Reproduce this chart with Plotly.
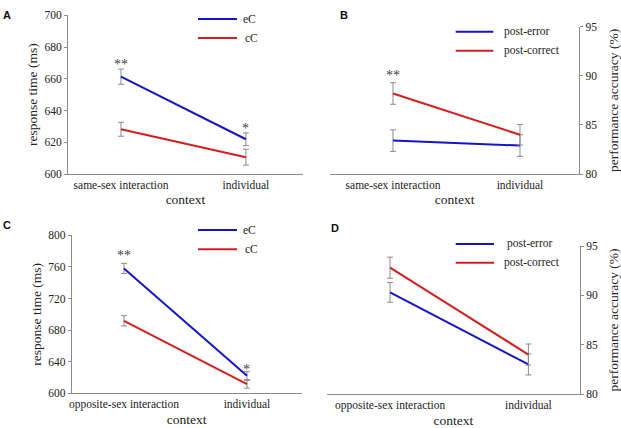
import plotly.graph_objects as go

# ---------------- data ----------------
cats_A = ["same-sex interaction", "individual"]
cats_C = ["opposite-sex interaction", "individual"]

A_eC = [661.3, 621.9]
A_eC_err = [4.8, 4.0]
A_cC = [628.2, 610.6]
A_cC_err = [4.4, 5.0]

B_err = [83.4, 82.9]
B_err_se = [1.1, 1.1]
B_cor = [88.2, 84.0]
B_cor_se = [1.1, 1.05]

C_eC = [758.0, 622.3]
C_eC_err = [6.5, 5.0]
C_cC = [691.8, 611.5]
C_cC_err = [6.5, 5.0]

D_err = [90.3, 83.0]
D_err_se = [1.0, 1.07]
D_cor = [92.8, 84.0]
D_cor_se = [1.07, 1.07]

BLUE = "#1414c8"
RED = "#d41e1e"
GRAY = "#8a8a8a"
SERIF = "Liberation Serif, Times New Roman, serif"
W, H = 621, 428

fig = go.Figure()

def add_series(x, y, e, color, xa, ya):
    fig.add_trace(go.Scatter(
        x=x, y=y, mode="lines", xaxis=xa, yaxis=ya,
        line=dict(color=color, width=2), showlegend=False,
        error_y=dict(type="data", array=e, visible=True, color=GRAY,
                     thickness=1, width=3)))

add_series(cats_A, A_cC, A_cC_err, RED, "x", "y")
add_series(cats_A, A_eC, A_eC_err, BLUE, "x", "y")
add_series(cats_A, B_err, B_err_se, BLUE, "x2", "y2")
add_series(cats_A, B_cor, B_cor_se, RED, "x2", "y2")
add_series(cats_C, C_cC, C_cC_err, RED, "x3", "y3")
add_series(cats_C, C_eC, C_eC_err, BLUE, "x3", "y3")
add_series(cats_C, D_err, D_err_se, BLUE, "x4", "y4")
add_series(cats_C, D_cor, D_cor_se, RED, "x4", "y4")

def px_x(p):
    return p / W

def px_y(p):
    return 1 - p / H

tickfont = dict(family=SERIF, size=11.5, color="#222")
titlefont = dict(family=SERIF, size=13.5, color="#222")

def xaxis(domain, rng):
    return dict(domain=domain, range=rng, type="category", showline=True,
                linecolor=GRAY, linewidth=1, ticks="", showgrid=False,
                zeroline=False, tickfont=tickfont, automargin=False,
                title=dict(text="context", font=titlefont, standoff=4))

def yaxis(domain, rng, dtick, anchor, side, title, standoff):
    return dict(domain=domain, range=rng, dtick=dtick, anchor=anchor, side=side,
                showline=True, linecolor=GRAY, linewidth=1, ticks="outside",
                ticklen=3, tickcolor=GRAY, showgrid=False, zeroline=False,
                tickfont=tickfont, automargin=False,
                title=dict(text=title, font=titlefont, standoff=standoff))

fig.update_layout(
    width=W, height=H, margin=dict(l=0, r=0, t=0, b=0, autoexpand=False),
    paper_bgcolor="white", plot_bgcolor="white",
    xaxis=dict(**xaxis([px_x(68), px_x(303)], [-0.424, 1.457]), anchor="y"),
    yaxis=yaxis([px_y(174), px_y(15.3)], [600, 700], 20, "x", "left", "response time (ms)", 3),
    xaxis2=dict(**xaxis([px_x(330), px_x(579.3)], [-0.496, 1.467]), anchor="y2"),
    yaxis2=yaxis([px_y(174), px_y(26.7)], [80, 95], 5, "x2", "right", "performance accuracy (%)", 12),
    xaxis3=dict(**xaxis([px_x(71.7), px_x(301.7)], [-0.425, 1.445]), anchor="y3"),
    yaxis3=yaxis([px_y(393.3), px_y(235.3)], [600, 800], 40, "x3", "left", "response time (ms)", 3),
    xaxis4=dict(**xaxis([px_x(326.7), px_x(580)], [-0.458, 1.373]), anchor="y4"),
    yaxis4=yaxis([px_y(394), px_y(246)], [80, 95], 5, "x4", "right", "performance accuracy (%)", 12),
)

shapes = []
annots = []

def legend(x0, x1, yb, yr, tx_b, tx_r, lab_b, lab_r):
    for y, c, tx, lab in [(yb, BLUE, tx_b, lab_b), (yr, RED, tx_r, lab_r)]:
        shapes.append(dict(type="line", xref="paper", yref="paper",
                           x0=px_x(x0), x1=px_x(x1), y0=px_y(y), y1=px_y(y),
                           line=dict(color=c, width=2)))
        annots.append(dict(xref="paper", yref="paper", x=px_x(tx), y=px_y(y),
                           text=lab, showarrow=False, xanchor="left", yanchor="middle",
                           font=dict(family=SERIF, size=11.5, color="#222")))

legend(198, 237, 19, 38, 241, 243, "eC", "cC")
legend(455.7, 493.3, 31.7, 50.7, 502, 502, "post-error", "post-correct")
legend(198, 237, 230, 249.3, 241, 243, "eC", "cC")
legend(455.7, 494, 244, 262.7, 505, 502, "post-error", "post-correct")

# panel letters
for lab, x, y in [("A", 7, 15), ("B", 344, 15), ("C", 7, 225), ("D", 335, 228)]:
    annots.append(dict(xref="paper", yref="paper", x=px_x(x), y=px_y(y), text="<b>%s</b>" % lab,
                       showarrow=False, xanchor="center", yanchor="middle",
                       font=dict(family="Liberation Sans", size=11, color="#111")))

# significance stars
star_font = dict(family=SERIF, size=14, color="#444")
for xa, ya, x, y, t in [("x", "y", cats_A[0], 669, "**"), ("x", "y", cats_A[1], 628.5, "*"),
                        ("x2", "y2", cats_A[0], 90.0, "**"),
                        ("x3", "y3", cats_C[0], 775, "**"), ("x3", "y3", cats_C[1], 630, "*")]:
    annots.append(dict(xref=xa, yref=ya, x=x, y=y, text=t, showarrow=False,
                       xanchor="center", yanchor="middle", font=star_font))

fig.update_layout(shapes=shapes, annotations=annots)
fig.write_html("out.html", config={"displayModeBar": False},
               post_script="document.body.style.margin='0';document.body.style.padding='0';")
